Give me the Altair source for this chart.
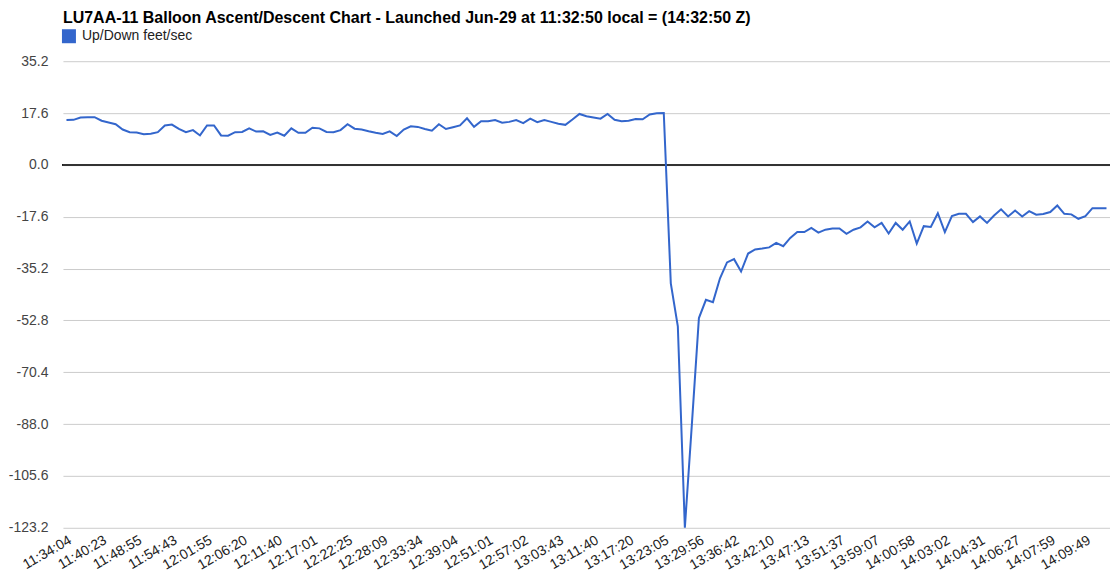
import altair as alt
import pandas as pd

title_text = "LU7AA-11 Balloon Ascent/Descent Chart - Launched Jun-29 at 11:32:50 local = (14:32:50 Z)"
series_name = "Up/Down feet/sec"

tick_labels = [
    "11:34:04", "11:40:23", "11:48:55", "11:54:43", "12:01:55", "12:06:20",
    "12:11:40", "12:17:01", "12:22:25", "12:28:09", "12:33:34", "12:39:04",
    "12:51:01", "12:57:02", "13:03:43", "13:11:40", "13:17:20", "13:23:05",
    "13:29:56", "13:36:42", "13:42:10", "13:47:13", "13:51:37", "13:59:07",
    "14:00:58", "14:03:02", "14:04:31", "14:06:27", "14:07:59", "14:09:49",
]
label_step = 5

rate_fps = [
    15.2, 15.3, 16.1, 16.2, 16.2, 15.0, 14.4, 13.8, 12.0, 11.1,
    11.0, 10.4, 10.6, 11.1, 13.4, 13.7, 12.2, 11.1, 11.8, 10.0,
    13.4, 13.4, 10.0, 9.9, 11.1, 11.2, 12.4, 11.3, 11.4, 10.2,
    11.0, 9.9, 12.4, 10.9, 10.9, 12.6, 12.4, 11.2, 11.1, 11.8,
    13.8, 12.3, 12.0, 11.4, 10.9, 10.5, 11.4, 9.8, 12.0, 13.1,
    12.9, 12.2, 11.6, 13.8, 12.2, 12.8, 13.4, 15.8, 12.9, 14.8,
    14.8, 15.2, 14.3, 14.6, 15.2, 14.2, 15.7, 14.5, 15.2, 14.6,
    14.0, 13.6, 15.4, 17.3, 16.5, 16.1, 15.7, 17.3, 15.3, 14.8,
    15.0, 15.6, 15.5, 17.1, 17.5, 17.6, -40.2, -54.8, -123.2, -88.0,
    -52.0, -45.8, -46.6, -38.5, -33.1, -32.0, -36.2, -30.1, -28.7, -28.4,
    -28.0, -26.5, -27.6, -24.8, -22.8, -22.8, -21.4, -23.0, -22.0, -21.6,
    -21.6, -23.4, -22.0, -21.2, -19.2, -21.2, -19.7, -23.3, -19.7, -22.0,
    -19.2, -26.7, -20.8, -21.1, -16.4, -22.8, -17.4, -16.6, -16.6, -19.4,
    -17.5, -19.7, -17.2, -15.1, -17.5, -15.5, -17.5, -15.7, -16.9, -16.7,
    -16.0, -13.8, -16.6, -16.8, -18.3, -17.4, -14.7, -14.7, -14.7,
]

y_ticks = [35.2, 17.6, 0.0, -17.6, -35.2, -52.8, -70.4, -88.0, -105.6, -123.2]

n = len(rate_fps)
df = pd.DataFrame({"idx": list(range(n)), "rate": rate_fps, "series": [series_name] * n})

label_js = "[" + ",".join("'" + s + "'" for s in tick_labels) + "]"
x_label_expr = label_js + "[round(datum.value / " + str(label_step) + ")]"
x_values = [i * label_step for i in range(len(tick_labels))]

FONT = "Liberation Sans"

x_enc = alt.X(
    "idx:Q",
    scale=alt.Scale(domain=[-0.5, n - 0.5], nice=False, zero=False),
    axis=alt.Axis(
        values=x_values, labelExpr=x_label_expr, labelAngle=-30,
        labelAlign="right", labelBaseline="top", grid=False, ticks=False,
        domain=False, title=None, labelFontSize=14, labelFont=FONT,
        labelColor="#222222", labelPadding=5, labelOverlap=False, labelFlush=False,
    ),
)
y_enc = alt.Y(
    "rate:Q",
    scale=alt.Scale(domain=[min(y_ticks), max(y_ticks)], nice=False, zero=False),
    axis=alt.Axis(
        values=y_ticks,
        labelExpr="datum.value < 0 ? '-' + format(-datum.value, '.1f') : format(datum.value, '.1f')",
        grid=True, gridColor="#cccccc", gridWidth=1, ticks=False, domain=False,
        title=None, labelFontSize=14, labelFont=FONT, labelColor="#444444",
        labelPadding=15, labelOverlap=False,
    ),
)

line = alt.Chart(df).mark_line(strokeWidth=2).encode(
    x=x_enc,
    y=y_enc,
    color=alt.Color(
        "series:N",
        scale=alt.Scale(range=["#3366cc"]),
        legend=alt.Legend(
            title=None, orient="none", legendX=-1, legendY=-32,
            symbolType="square", symbolSize=196, symbolFillColor="#3366cc",
            symbolStrokeColor="#3366cc", symbolStrokeWidth=0,
            labelFontSize=14, labelFont=FONT, labelColor="#222222", labelOffset=6,
        ),
    ),
)

zero_rule = alt.Chart(df).mark_rule(color="#333333", strokeWidth=1).encode(y=alt.datum(0))

chart = (
    alt.layer(zero_rule, line)
    .properties(
        width=1048,
        height=467,
        padding={"left": 55, "top": 53, "right": 0, "bottom": 45},
        autosize=alt.AutoSizeParams(type="none"),
        title=alt.TitleParams(
            title_text, anchor="start", frame="group", fontSize=16,
            fontWeight="bold", font=FONT, color="#000000", offset=3,
        ),
        background="white",
    )
    .configure_view(stroke=None)
)

chart.save("out.html", embed_options={"renderer": "svg", "actions": False})
